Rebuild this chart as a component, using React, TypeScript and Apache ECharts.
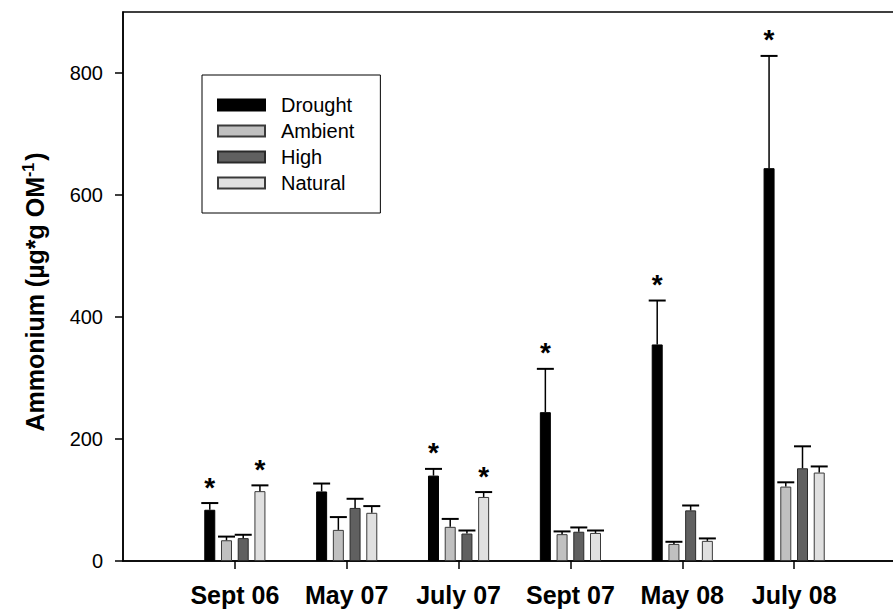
import React, { useEffect, useRef } from "react";
import * as echarts from "echarts";

// Sampling dates (one bar group per date)
const categories = ["Sept 06", "May 07", "July 07", "Sept 07", "May 08", "July 08"];
const treatments = ["Drought", "Ambient", "High", "Natural"];

// Mean ammonium per treatment (µg*g OM-1)
const drought = [84, 114, 140, 244, 355, 644];
const ambient = [34, 51, 56, 44, 28, 122];
const high = [37.5, 87, 45, 48, 83, 152];
const natural = [114.5, 79, 105, 46, 33, 145];

// Standard errors (upper whisker length)
const droughtSE = [11, 13, 11, 71, 72, 184];
const ambientSE = [6, 21, 13, 4.5, 3.5, 7];
const highSE = [5.5, 15, 5, 7, 8, 36];
const naturalSE = [9.5, 11, 8, 4, 4, 10];

// Significant difference markers (1 = asterisk above the bar)
const droughtSig = [1, 0, 1, 1, 1, 1];
const ambientSig = [0, 0, 0, 0, 0, 0];
const highSig = [0, 0, 0, 0, 0, 0];
const naturalSig = [1, 0, 1, 0, 0, 0];

const yTicks = [0, 200, 400, 600, 800];

const FONT = "'Liberation Sans', Arial, Helvetica, sans-serif";
const BAR_WIDTH = 11;
const BAR_GAP = 0.52;

const fills = ["#000000", "#c0c0c0", "#606060", "#e0e0e0"];
const borders = ["#000000", "#3a3a3a", "#2a2a2a", "#3a3a3a"];

export default function App() {
  const ref = useRef<HTMLDivElement>(null);

  useEffect(() => {
    document.body.style.margin = "0";
    if (!ref.current) return;
    const chart = echarts.init(ref.current, undefined, { renderer: "svg" });

    const positions = categories.map((_, i) => i + 1);
    const means = [drought, ambient, high, natural];
    const ses = [droughtSE, ambientSE, highSE, naturalSE];
    const sigs = [droughtSig, ambientSig, highSig, naturalSig];
    const pitch = BAR_WIDTH * (1 + BAR_GAP);

    const barSeries = treatments.map((name, k) => ({
      type: "bar",
      name,
      data: positions.map((x, i) => [x, means[k][i]]),
      barWidth: BAR_WIDTH,
      barGap: `${BAR_GAP * 100}%`,
      itemStyle: { color: fills[k], borderColor: borders[k], borderWidth: 1 },
      z: 2,
    }));

    const errorSeries = treatments.map((name, k) => ({
      type: "custom",
      name: `${name} SE`,
      data: positions.map((x, i) => [x, means[k][i], means[k][i] + ses[k][i], sigs[k][i]]),
      encode: { x: 0, y: [1, 2] },
      z: 4,
      renderItem: (_params: any, api: any) => {
        const top = api.coord([api.value(0), api.value(1)]);
        const cap = api.coord([api.value(0), api.value(2)]);
        const cx = top[0] + (k - 1.5) * pitch;
        const children: any[] = [
          {
            type: "line",
            shape: { x1: cx, y1: top[1], x2: cx, y2: cap[1] },
            style: { stroke: "#000", lineWidth: 1.5 },
          },
          {
            type: "line",
            shape: { x1: cx - 8.5, y1: cap[1], x2: cx + 8.5, y2: cap[1] },
            style: { stroke: "#000", lineWidth: 2 },
          },
        ];
        if (api.value(3) === 1) {
          children.push({
            type: "text",
            style: {
              text: "*",
              x: cx,
              y: cap[1] - 16,
              align: "center",
              verticalAlign: "middle",
              font: `bold 28px ${FONT}`,
              fill: "#000",
            },
          });
        }
        return { type: "group", children };
      },
    }));

    chart.setOption({
      animation: false,
      backgroundColor: "#ffffff",
      textStyle: { fontFamily: FONT },
      grid: {
        left: 123,
        right: -13,
        top: 12,
        bottom: 52,
        outerBoundsMode: "none",
        containLabel: false,
        show: true,
        borderColor: "#000",
        borderWidth: 1.5,
        backgroundColor: "transparent",
      },
      legend: {
        data: treatments,
        orient: "vertical",
        left: 202,
        top: 75,
        padding: [20, 26, 20, 15],
        itemWidth: 47,
        itemHeight: 11,
        itemGap: 6,
        icon: "rect",
        borderColor: "#000",
        borderWidth: 1,
        selectedMode: false,
        textStyle: {
          fontFamily: FONT,
          fontSize: 20,
          lineHeight: 20,
          color: "#000",
          padding: [0, 0, 0, 11],
        },
      },
      xAxis: {
        type: "value",
        min: 0,
        max: 7,
        splitLine: { show: false },
        axisLine: { show: true, lineStyle: { color: "#000", width: 1.5 } },
        axisTick: {
          show: true,
          customValues: positions,
          length: 8,
          lineStyle: { color: "#000", width: 1.5 },
        },
        axisLabel: {
          customValues: positions,
          formatter: (v: number) => categories[Math.round(v) - 1] ?? "",
          fontFamily: FONT,
          fontSize: 25,
          fontWeight: "bold",
          color: "#000",
          margin: 21,
        },
      },
      yAxis: {
        type: "value",
        min: 0,
        max: 900,
        splitLine: { show: false },
        axisLine: { show: true, lineStyle: { color: "#000", width: 1.5 } },
        axisTick: {
          show: true,
          customValues: yTicks,
          length: 8,
          lineStyle: { color: "#000", width: 1.5 },
        },
        axisLabel: {
          customValues: yTicks,
          fontFamily: FONT,
          fontSize: 20,
          color: "#000",
          margin: 20,
        },
      },
      graphic: [
        {
          type: "text",
          x: 35,
          y: 292,
          rotation: Math.PI / 2,
          style: {
            text: "{a|Ammonium (µg*g OM}{s|-1}{a|)}",
            align: "center",
            verticalAlign: "middle",
            fill: "#000",
            rich: {
              a: { fontFamily: FONT, fontSize: 25, fontWeight: "bold", lineHeight: 30, fill: "#000" },
              s: {
                fontFamily: FONT,
                fontSize: 16,
                fontWeight: "bold",
                lineHeight: 30,
                verticalAlign: "top",
                padding: [0, 2, 12, 0],
                fill: "#000",
              },
            },
          },
        },
      ],
      series: [...barSeries, ...errorSeries],
    });

    return () => chart.dispose();
  }, []);

  return <div ref={ref} style={{ width: 893, height: 613 }} />;
}
